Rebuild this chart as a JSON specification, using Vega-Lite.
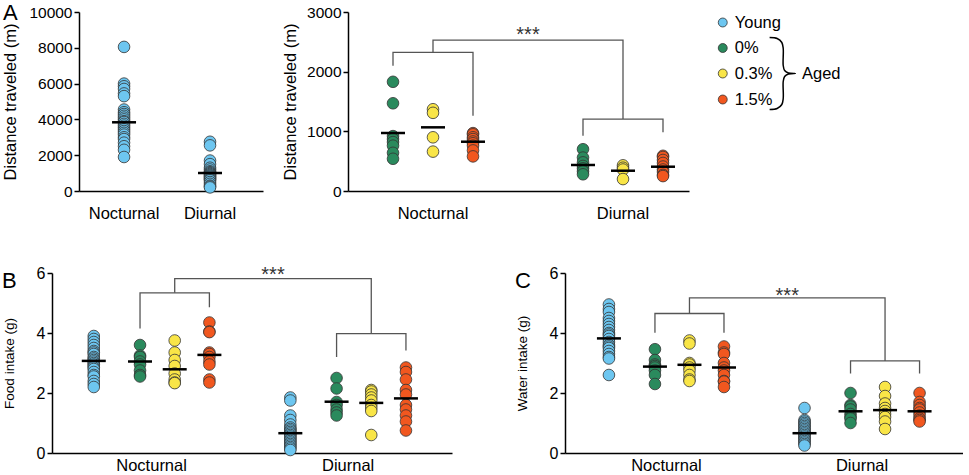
{
  "$schema": "https://vega.github.io/schema/vega-lite/v6.json",
  "padding": {"left": 1, "top": 2, "right": 0, "bottom": 0},
  "background": "white",
  "datasets": {
    "distYoung": [
      {"period":"Nocturnal","group":"Young","value":8050},{"period":"Nocturnal","group":"Young","value":6000},{"period":"Nocturnal","group":"Young","value":5850},{"period":"Nocturnal","group":"Young","value":5700},{"period":"Nocturnal","group":"Young","value":5450},{"period":"Nocturnal","group":"Young","value":5300},{"period":"Nocturnal","group":"Young","value":4550},{"period":"Nocturnal","group":"Young","value":4400},{"period":"Nocturnal","group":"Young","value":4300},{"period":"Nocturnal","group":"Young","value":4200},{"period":"Nocturnal","group":"Young","value":4100},{"period":"Nocturnal","group":"Young","value":4000},{"period":"Nocturnal","group":"Young","value":3900},{"period":"Nocturnal","group":"Young","value":3850},{"period":"Nocturnal","group":"Young","value":3750},{"period":"Nocturnal","group":"Young","value":3650},{"period":"Nocturnal","group":"Young","value":3550},{"period":"Nocturnal","group":"Young","value":3450},{"period":"Nocturnal","group":"Young","value":3350},{"period":"Nocturnal","group":"Young","value":3250},{"period":"Nocturnal","group":"Young","value":3150},{"period":"Nocturnal","group":"Young","value":3000},{"period":"Nocturnal","group":"Young","value":2900},{"period":"Nocturnal","group":"Young","value":2700},{"period":"Nocturnal","group":"Young","value":2500},{"period":"Nocturnal","group":"Young","value":2300},{"period":"Nocturnal","group":"Young","value":1900},
      {"period":"Diurnal","group":"Young","value":2750},{"period":"Diurnal","group":"Young","value":2550},{"period":"Diurnal","group":"Young","value":1700},{"period":"Diurnal","group":"Young","value":1500},{"period":"Diurnal","group":"Young","value":1300},{"period":"Diurnal","group":"Young","value":1200},{"period":"Diurnal","group":"Young","value":1100},{"period":"Diurnal","group":"Young","value":1050},{"period":"Diurnal","group":"Young","value":1000},{"period":"Diurnal","group":"Young","value":950},{"period":"Diurnal","group":"Young","value":900},{"period":"Diurnal","group":"Young","value":850},{"period":"Diurnal","group":"Young","value":800},{"period":"Diurnal","group":"Young","value":750},{"period":"Diurnal","group":"Young","value":700},{"period":"Diurnal","group":"Young","value":650},{"period":"Diurnal","group":"Young","value":600},{"period":"Diurnal","group":"Young","value":500},{"period":"Diurnal","group":"Young","value":400},{"period":"Diurnal","group":"Young","value":300},{"period":"Diurnal","group":"Young","value":250},{"period":"Diurnal","group":"Young","value":200}
    ],
    "distYoungMean": [
      {"period":"Nocturnal","group":"Young","value":3838},{"period":"Diurnal","group":"Young","value":1005}
    ],
    "distAged": [
      {"period":"Nocturnal","group":"aged 0%","value":1830},{"period":"Nocturnal","group":"aged 0%","value":1470},{"period":"Nocturnal","group":"aged 0%","value":920},{"period":"Nocturnal","group":"aged 0%","value":870},{"period":"Nocturnal","group":"aged 0%","value":820},{"period":"Nocturnal","group":"aged 0%","value":760},{"period":"Nocturnal","group":"aged 0%","value":640},{"period":"Nocturnal","group":"aged 0%","value":540},
      {"period":"Nocturnal","group":"aged 0.3%","value":1370},{"period":"Nocturnal","group":"aged 0.3%","value":1310},{"period":"Nocturnal","group":"aged 0.3%","value":900},{"period":"Nocturnal","group":"aged 0.3%","value":660},
      {"period":"Nocturnal","group":"aged 1.5%","value":970},{"period":"Nocturnal","group":"aged 1.5%","value":950},{"period":"Nocturnal","group":"aged 1.5%","value":900},{"period":"Nocturnal","group":"aged 1.5%","value":870},{"period":"Nocturnal","group":"aged 1.5%","value":830},{"period":"Nocturnal","group":"aged 1.5%","value":800},{"period":"Nocturnal","group":"aged 1.5%","value":760},{"period":"Nocturnal","group":"aged 1.5%","value":680},{"period":"Nocturnal","group":"aged 1.5%","value":580},
      {"period":"Diurnal","group":"aged 0%","value":700},{"period":"Diurnal","group":"aged 0%","value":560},{"period":"Diurnal","group":"aged 0%","value":480},{"period":"Diurnal","group":"aged 0%","value":420},{"period":"Diurnal","group":"aged 0%","value":380},{"period":"Diurnal","group":"aged 0%","value":330},{"period":"Diurnal","group":"aged 0%","value":280},
      {"period":"Diurnal","group":"aged 0.3%","value":430},{"period":"Diurnal","group":"aged 0.3%","value":390},{"period":"Diurnal","group":"aged 0.3%","value":360},{"period":"Diurnal","group":"aged 0.3%","value":200},
      {"period":"Diurnal","group":"aged 1.5%","value":590},{"period":"Diurnal","group":"aged 1.5%","value":570},{"period":"Diurnal","group":"aged 1.5%","value":520},{"period":"Diurnal","group":"aged 1.5%","value":470},{"period":"Diurnal","group":"aged 1.5%","value":410},{"period":"Diurnal","group":"aged 1.5%","value":360},{"period":"Diurnal","group":"aged 1.5%","value":320},{"period":"Diurnal","group":"aged 1.5%","value":270},{"period":"Diurnal","group":"aged 1.5%","value":250}
    ],
    "distAgedMean": [
      {"period":"Nocturnal","group":"aged 0%","value":972},{"period":"Nocturnal","group":"aged 0.3%","value":1067},{"period":"Nocturnal","group":"aged 1.5%","value":826},
      {"period":"Diurnal","group":"aged 0%","value":436},{"period":"Diurnal","group":"aged 0.3%","value":340},{"period":"Diurnal","group":"aged 1.5%","value":407}
    ],
    "distBracket": [
      {"seg":1,"ord":1,"period":"Nocturnal","group":"aged 0%","value":2099},{"seg":1,"ord":2,"period":"Nocturnal","group":"aged 0%","value":2323},{"seg":1,"ord":3,"period":"Nocturnal","group":"aged 1.5%","value":2323},{"seg":1,"ord":4,"period":"Nocturnal","group":"aged 1.5%","value":1261},
      {"seg":2,"ord":1,"period":"Nocturnal","group":"aged 0.3%","value":2323},{"seg":2,"ord":2,"period":"Nocturnal","group":"aged 0.3%","value":2529},{"seg":2,"ord":3,"period":"Diurnal","group":"aged 0.3%","value":2529},{"seg":2,"ord":4,"period":"Diurnal","group":"aged 0.3%","value":1206},
      {"seg":3,"ord":1,"period":"Diurnal","group":"aged 0%","value":926},{"seg":3,"ord":2,"period":"Diurnal","group":"aged 0%","value":1206},{"seg":3,"ord":3,"period":"Diurnal","group":"aged 1.5%","value":1206},{"seg":3,"ord":4,"period":"Diurnal","group":"aged 1.5%","value":983}
    ],
    "distStar": [{"value":2510,"label":"***"}],
    "food": [
      {"period":"Nocturnal","group":"Young","value":3.9},{"period":"Nocturnal","group":"Young","value":3.8},{"period":"Nocturnal","group":"Young","value":3.7},{"period":"Nocturnal","group":"Young","value":3.6},{"period":"Nocturnal","group":"Young","value":3.5},{"period":"Nocturnal","group":"Young","value":3.4},{"period":"Nocturnal","group":"Young","value":3.35},{"period":"Nocturnal","group":"Young","value":3.3},{"period":"Nocturnal","group":"Young","value":3.2},{"period":"Nocturnal","group":"Young","value":3.15},{"period":"Nocturnal","group":"Young","value":3.1},{"period":"Nocturnal","group":"Young","value":3.05},{"period":"Nocturnal","group":"Young","value":3.0},{"period":"Nocturnal","group":"Young","value":2.95},{"period":"Nocturnal","group":"Young","value":2.9},{"period":"Nocturnal","group":"Young","value":2.85},{"period":"Nocturnal","group":"Young","value":2.8},{"period":"Nocturnal","group":"Young","value":2.7},{"period":"Nocturnal","group":"Young","value":2.6},{"period":"Nocturnal","group":"Young","value":2.55},{"period":"Nocturnal","group":"Young","value":2.4},{"period":"Nocturnal","group":"Young","value":2.3},{"period":"Nocturnal","group":"Young","value":2.2},
      {"period":"Nocturnal","group":"aged 0%","value":3.6},{"period":"Nocturnal","group":"aged 0%","value":3.25},{"period":"Nocturnal","group":"aged 0%","value":3.2},{"period":"Nocturnal","group":"aged 0%","value":3.05},{"period":"Nocturnal","group":"aged 0%","value":2.95},{"period":"Nocturnal","group":"aged 0%","value":2.75},{"period":"Nocturnal","group":"aged 0%","value":2.6},{"period":"Nocturnal","group":"aged 0%","value":2.55},
      {"period":"Nocturnal","group":"aged 0.3%","value":3.75},{"period":"Nocturnal","group":"aged 0.3%","value":3.35},{"period":"Nocturnal","group":"aged 0.3%","value":3.1},{"period":"Nocturnal","group":"aged 0.3%","value":2.9},{"period":"Nocturnal","group":"aged 0.3%","value":2.65},{"period":"Nocturnal","group":"aged 0.3%","value":2.45},{"period":"Nocturnal","group":"aged 0.3%","value":2.35},{"period":"Nocturnal","group":"aged 0.3%","value":2.33},
      {"period":"Nocturnal","group":"aged 1.5%","value":4.35},{"period":"Nocturnal","group":"aged 1.5%","value":4.05},{"period":"Nocturnal","group":"aged 1.5%","value":4.03},{"period":"Nocturnal","group":"aged 1.5%","value":3.35},{"period":"Nocturnal","group":"aged 1.5%","value":3.3},{"period":"Nocturnal","group":"aged 1.5%","value":3.2},{"period":"Nocturnal","group":"aged 1.5%","value":3.05},{"period":"Nocturnal","group":"aged 1.5%","value":2.95},{"period":"Nocturnal","group":"aged 1.5%","value":2.45},{"period":"Nocturnal","group":"aged 1.5%","value":2.35},
      {"period":"Diurnal","group":"Young","value":1.85},{"period":"Diurnal","group":"Young","value":1.75},{"period":"Diurnal","group":"Young","value":1.25},{"period":"Diurnal","group":"Young","value":1.1},{"period":"Diurnal","group":"Young","value":0.95},{"period":"Diurnal","group":"Young","value":0.85},{"period":"Diurnal","group":"Young","value":0.8},{"period":"Diurnal","group":"Young","value":0.75},{"period":"Diurnal","group":"Young","value":0.7},{"period":"Diurnal","group":"Young","value":0.65},{"period":"Diurnal","group":"Young","value":0.6},{"period":"Diurnal","group":"Young","value":0.55},{"period":"Diurnal","group":"Young","value":0.5},{"period":"Diurnal","group":"Young","value":0.45},{"period":"Diurnal","group":"Young","value":0.4},{"period":"Diurnal","group":"Young","value":0.35},{"period":"Diurnal","group":"Young","value":0.3},{"period":"Diurnal","group":"Young","value":0.25},{"period":"Diurnal","group":"Young","value":0.2},{"period":"Diurnal","group":"Young","value":0.15},{"period":"Diurnal","group":"Young","value":0.1},
      {"period":"Diurnal","group":"aged 0%","value":2.5},{"period":"Diurnal","group":"aged 0%","value":2.15},{"period":"Diurnal","group":"aged 0%","value":1.7},{"period":"Diurnal","group":"aged 0%","value":1.6},{"period":"Diurnal","group":"aged 0%","value":1.45},{"period":"Diurnal","group":"aged 0%","value":1.35},{"period":"Diurnal","group":"aged 0%","value":1.25},
      {"period":"Diurnal","group":"aged 0.3%","value":2.1},{"period":"Diurnal","group":"aged 0.3%","value":2.05},{"period":"Diurnal","group":"aged 0.3%","value":1.95},{"period":"Diurnal","group":"aged 0.3%","value":1.85},{"period":"Diurnal","group":"aged 0.3%","value":1.75},{"period":"Diurnal","group":"aged 0.3%","value":1.6},{"period":"Diurnal","group":"aged 0.3%","value":1.5},{"period":"Diurnal","group":"aged 0.3%","value":1.4},{"period":"Diurnal","group":"aged 0.3%","value":0.6},
      {"period":"Diurnal","group":"aged 1.5%","value":2.85},{"period":"Diurnal","group":"aged 1.5%","value":2.7},{"period":"Diurnal","group":"aged 1.5%","value":2.45},{"period":"Diurnal","group":"aged 1.5%","value":2.1},{"period":"Diurnal","group":"aged 1.5%","value":1.95},{"period":"Diurnal","group":"aged 1.5%","value":1.6},{"period":"Diurnal","group":"aged 1.5%","value":1.45},{"period":"Diurnal","group":"aged 1.5%","value":1.25},{"period":"Diurnal","group":"aged 1.5%","value":1.05},{"period":"Diurnal","group":"aged 1.5%","value":0.75}
    ],
    "foodMean": [
      {"period":"Nocturnal","group":"Young","value":3.07},{"period":"Nocturnal","group":"aged 0%","value":3.05},{"period":"Nocturnal","group":"aged 0.3%","value":2.79},{"period":"Nocturnal","group":"aged 1.5%","value":3.27},
      {"period":"Diurnal","group":"Young","value":0.66},{"period":"Diurnal","group":"aged 0%","value":1.71},{"period":"Diurnal","group":"aged 0.3%","value":1.67},{"period":"Diurnal","group":"aged 1.5%","value":1.82}
    ],
    "foodBracket": [
      {"seg":1,"ord":1,"period":"Nocturnal","group":"aged 0%","value":4.15},{"seg":1,"ord":2,"period":"Nocturnal","group":"aged 0%","value":5.34},{"seg":1,"ord":3,"period":"Nocturnal","group":"aged 1.5%","value":5.34},{"seg":1,"ord":4,"period":"Nocturnal","group":"aged 1.5%","value":4.86},
      {"seg":2,"ord":1,"period":"Nocturnal","group":"aged 0.3%","value":5.34},{"seg":2,"ord":2,"period":"Nocturnal","group":"aged 0.3%","value":5.81},{"seg":2,"ord":3,"period":"Diurnal","group":"aged 0.3%","value":5.81},{"seg":2,"ord":4,"period":"Diurnal","group":"aged 0.3%","value":3.98},
      {"seg":3,"ord":1,"period":"Diurnal","group":"aged 0%","value":3.2},{"seg":3,"ord":2,"period":"Diurnal","group":"aged 0%","value":3.98},{"seg":3,"ord":3,"period":"Diurnal","group":"aged 1.5%","value":3.98},{"seg":3,"ord":4,"period":"Diurnal","group":"aged 1.5%","value":3.42}
    ],
    "foodStar": [{"value":5.73,"label":"***"}],
    "water": [
      {"period":"Nocturnal","group":"Young","value":4.95},{"period":"Nocturnal","group":"Young","value":4.8},{"period":"Nocturnal","group":"Young","value":4.7},{"period":"Nocturnal","group":"Young","value":4.5},{"period":"Nocturnal","group":"Young","value":4.4},{"period":"Nocturnal","group":"Young","value":4.3},{"period":"Nocturnal","group":"Young","value":4.2},{"period":"Nocturnal","group":"Young","value":4.1},{"period":"Nocturnal","group":"Young","value":4.0},{"period":"Nocturnal","group":"Young","value":3.95},{"period":"Nocturnal","group":"Young","value":3.9},{"period":"Nocturnal","group":"Young","value":3.8},{"period":"Nocturnal","group":"Young","value":3.7},{"period":"Nocturnal","group":"Young","value":3.6},{"period":"Nocturnal","group":"Young","value":3.55},{"period":"Nocturnal","group":"Young","value":3.5},{"period":"Nocturnal","group":"Young","value":3.4},{"period":"Nocturnal","group":"Young","value":3.3},{"period":"Nocturnal","group":"Young","value":3.2},{"period":"Nocturnal","group":"Young","value":3.15},{"period":"Nocturnal","group":"Young","value":2.6},
      {"period":"Nocturnal","group":"aged 0%","value":3.46},{"period":"Nocturnal","group":"aged 0%","value":3.1},{"period":"Nocturnal","group":"aged 0%","value":2.95},{"period":"Nocturnal","group":"aged 0%","value":2.9},{"period":"Nocturnal","group":"aged 0%","value":2.85},{"period":"Nocturnal","group":"aged 0%","value":2.75},{"period":"Nocturnal","group":"aged 0%","value":2.6},{"period":"Nocturnal","group":"aged 0%","value":2.3},
      {"period":"Nocturnal","group":"aged 0.3%","value":3.75},{"period":"Nocturnal","group":"aged 0.3%","value":3.65},{"period":"Nocturnal","group":"aged 0.3%","value":3.0},{"period":"Nocturnal","group":"aged 0.3%","value":2.95},{"period":"Nocturnal","group":"aged 0.3%","value":2.85},{"period":"Nocturnal","group":"aged 0.3%","value":2.75},{"period":"Nocturnal","group":"aged 0.3%","value":2.6},{"period":"Nocturnal","group":"aged 0.3%","value":2.45},{"period":"Nocturnal","group":"aged 0.3%","value":2.4},
      {"period":"Nocturnal","group":"aged 1.5%","value":3.55},{"period":"Nocturnal","group":"aged 1.5%","value":3.35},{"period":"Nocturnal","group":"aged 1.5%","value":3.3},{"period":"Nocturnal","group":"aged 1.5%","value":3.0},{"period":"Nocturnal","group":"aged 1.5%","value":2.85},{"period":"Nocturnal","group":"aged 1.5%","value":2.75},{"period":"Nocturnal","group":"aged 1.5%","value":2.6},{"period":"Nocturnal","group":"aged 1.5%","value":2.4},{"period":"Nocturnal","group":"aged 1.5%","value":2.38},{"period":"Nocturnal","group":"aged 1.5%","value":2.2},
      {"period":"Diurnal","group":"Young","value":1.5},{"period":"Diurnal","group":"Young","value":1.1},{"period":"Diurnal","group":"Young","value":1.05},{"period":"Diurnal","group":"Young","value":1.0},{"period":"Diurnal","group":"Young","value":0.95},{"period":"Diurnal","group":"Young","value":0.9},{"period":"Diurnal","group":"Young","value":0.85},{"period":"Diurnal","group":"Young","value":0.8},{"period":"Diurnal","group":"Young","value":0.75},{"period":"Diurnal","group":"Young","value":0.7},{"period":"Diurnal","group":"Young","value":0.65},{"period":"Diurnal","group":"Young","value":0.6},{"period":"Diurnal","group":"Young","value":0.55},{"period":"Diurnal","group":"Young","value":0.5},{"period":"Diurnal","group":"Young","value":0.45},{"period":"Diurnal","group":"Young","value":0.4},{"period":"Diurnal","group":"Young","value":0.35},{"period":"Diurnal","group":"Young","value":0.3},{"period":"Diurnal","group":"Young","value":0.25},
      {"period":"Diurnal","group":"aged 0%","value":2.0},{"period":"Diurnal","group":"aged 0%","value":1.6},{"period":"Diurnal","group":"aged 0%","value":1.55},{"period":"Diurnal","group":"aged 0%","value":1.45},{"period":"Diurnal","group":"aged 0%","value":1.3},{"period":"Diurnal","group":"aged 0%","value":1.2},{"period":"Diurnal","group":"aged 0%","value":1.15},{"period":"Diurnal","group":"aged 0%","value":1.0},
      {"period":"Diurnal","group":"aged 0.3%","value":2.2},{"period":"Diurnal","group":"aged 0.3%","value":1.9},{"period":"Diurnal","group":"aged 0.3%","value":1.65},{"period":"Diurnal","group":"aged 0.3%","value":1.5},{"period":"Diurnal","group":"aged 0.3%","value":1.4},{"period":"Diurnal","group":"aged 0.3%","value":1.3},{"period":"Diurnal","group":"aged 0.3%","value":1.2},{"period":"Diurnal","group":"aged 0.3%","value":1.05},{"period":"Diurnal","group":"aged 0.3%","value":0.8},
      {"period":"Diurnal","group":"aged 1.5%","value":2.0},{"period":"Diurnal","group":"aged 1.5%","value":1.7},{"period":"Diurnal","group":"aged 1.5%","value":1.6},{"period":"Diurnal","group":"aged 1.5%","value":1.5},{"period":"Diurnal","group":"aged 1.5%","value":1.45},{"period":"Diurnal","group":"aged 1.5%","value":1.35},{"period":"Diurnal","group":"aged 1.5%","value":1.25},{"period":"Diurnal","group":"aged 1.5%","value":1.15},{"period":"Diurnal","group":"aged 1.5%","value":1.1},{"period":"Diurnal","group":"aged 1.5%","value":1.05}
    ],
    "waterMean": [
      {"period":"Nocturnal","group":"Young","value":3.82},{"period":"Nocturnal","group":"aged 0%","value":2.88},{"period":"Nocturnal","group":"aged 0.3%","value":2.94},{"period":"Nocturnal","group":"aged 1.5%","value":2.85},
      {"period":"Diurnal","group":"Young","value":0.66},{"period":"Diurnal","group":"aged 0%","value":1.39},{"period":"Diurnal","group":"aged 0.3%","value":1.43},{"period":"Diurnal","group":"aged 1.5%","value":1.39}
    ],
    "waterBracket": [
      {"seg":1,"ord":1,"period":"Nocturnal","group":"aged 0%","value":4.01},{"seg":1,"ord":2,"period":"Nocturnal","group":"aged 0%","value":4.65},{"seg":1,"ord":3,"period":"Nocturnal","group":"aged 1.5%","value":4.65},{"seg":1,"ord":4,"period":"Nocturnal","group":"aged 1.5%","value":4.01},
      {"seg":2,"ord":1,"period":"Nocturnal","group":"aged 0.3%","value":4.65},{"seg":2,"ord":2,"period":"Nocturnal","group":"aged 0.3%","value":5.17},{"seg":2,"ord":3,"period":"Diurnal","group":"aged 0.3%","value":5.17},{"seg":2,"ord":4,"period":"Diurnal","group":"aged 0.3%","value":3.07},
      {"seg":3,"ord":1,"period":"Diurnal","group":"aged 0%","value":2.65},{"seg":3,"ord":2,"period":"Diurnal","group":"aged 0%","value":3.07},{"seg":3,"ord":3,"period":"Diurnal","group":"aged 1.5%","value":3.07},{"seg":3,"ord":4,"period":"Diurnal","group":"aged 1.5%","value":2.65}
    ],
    "waterStar": [{"value":5.04,"label":"***"}],
    "legendItems": [
      {"group":"Young","label":"Young","lx":20,"ly":10.5},{"group":"aged 0%","label":"0%","lx":20,"ly":36},{"group":"aged 0.3%","label":"0.3%","lx":20,"ly":61.5},{"group":"aged 1.5%","label":"1.5%","lx":20,"ly":87.5}
    ],
    "brace": [
      {"ord":1,"bx":70,"by":25.5},{"ord":2,"bx":78,"by":26.5},{"ord":3,"bx":83,"by":30.5},{"ord":4,"bx":84.5,"by":36.5},{"ord":5,"bx":84.5,"by":53.5},{"ord":6,"bx":86,"by":58.5},{"ord":7,"bx":90,"by":61},{"ord":8,"bx":97.5,"by":61.5},{"ord":9,"bx":90,"by":62},{"ord":10,"bx":86,"by":64.5},{"ord":11,"bx":84.5,"by":69.5},{"ord":12,"bx":84.5,"by":86.5},{"ord":13,"bx":83,"by":92.5},{"ord":14,"bx":78,"by":96.5},{"ord":15,"bx":70,"by":97.5}
    ],
    "agedLabel": [{"label":"Aged","lx":104.5,"ly":61.5}],
    "blank": [{"k":0}]
  },
  "vconcat": [
    {
      "spacing": 0,
      "hconcat": [
        {"width": 1, "height": 1, "data": {"name": "blank"}, "mark": {"type": "point", "opacity": 0, "size": 0}},
        {
          "width": 184, "height": 179,
          "title": {"text": "A", "dy": 24},
          "layer": [
            {
              "data": {"name": "distYoung"},
              "mark": {"type": "circle", "size": 135, "stroke": "#333333", "strokeWidth": 0.8, "opacity": 1},
              "encoding": {
                "x": {"field": "period", "type": "nominal", "sort": ["Nocturnal", "Diurnal"], "scale": {"domain": ["Nocturnal", "Diurnal"], "paddingInner": 0, "paddingOuter": 0.07, "align": 0.17}, "axis": {"title": null, "labelAngle": 0, "ticks": false, "tickSize": 0, "labelPadding": 14, "labelFontSize": 16.5}},
                "y": {"field": "value", "type": "quantitative", "scale": {"domain": [0, 10000]}, "axis": {"title": "Distance traveled (m)", "values": [0, 2000, 4000, 6000, 8000, 10000], "tickCount": 6, "format": "d", "labelOverlap": false, "labelSeparation": 0, "labelFontSize": 15.5, "titleFontSize": 16.5, "titlePadding": 10}},
                "color": {"field": "group", "type": "nominal", "scale": {"domain": ["Young", "aged 0%", "aged 0.3%", "aged 1.5%"], "range": ["#6DC6F0", "#2A8A5D", "#F9E547", "#F1571F"]}, "legend": null}
              }
            },
            {
              "data": {"name": "distYoungMean"},
              "mark": {"type": "tick", "orient": "horizontal", "size": 24, "thickness": 2.5, "color": "black", "opacity": 1},
              "encoding": {
                "x": {"field": "period", "type": "nominal", "sort": ["Nocturnal", "Diurnal"]},
                "y": {"field": "value", "type": "quantitative", "axis": {"title": "Distance traveled (m)", "values": [0, 2000, 4000, 6000, 8000, 10000], "tickCount": 6, "format": "d", "labelOverlap": false, "labelSeparation": 0, "labelFontSize": 15.5, "titleFontSize": 16.5, "titlePadding": 10}}
              }
            }
          ]
        },
        {"width": 18.5, "height": 1, "data": {"name": "blank"}, "mark": {"type": "point", "opacity": 0, "size": 0}},
        {
          "width": 341, "height": 179,
          "layer": [
            {
              "data": {"name": "distBracket"},
              "transform": [{"calculate": "datum.period + ' ' + datum.group", "as": "slot"}],
              "mark": {"type": "line", "color": "#555555", "strokeWidth": 1.3},
              "encoding": {
                "x": {"field": "slot", "type": "nominal", "scale": {"domain": ["a0","a1","a2","a3","Nocturnal aged 0%","a5","a6","a7","Nocturnal aged 0.3%","a9","a10","a11","Nocturnal aged 1.5%","a13","a14","a15","a16","a17","a18","a19","a20","a21","a22","Diurnal aged 0%","a24","a25","a26","Diurnal aged 0.3%","a28","a29","a30","Diurnal aged 1.5%","a32","a33"], "paddingInner": 0, "paddingOuter": 0.05, "align": 0}, "axis": {"title": null, "labelAngle": 0, "ticks": false, "tickSize": 0, "labelPadding": 14, "labelFontSize": 16.5, "labelExpr": "datum.value == 'Nocturnal aged 0.3%' ? 'Nocturnal' : datum.value == 'Diurnal aged 0.3%' ? 'Diurnal' : ''"}},
                "y": {"field": "value", "type": "quantitative", "scale": {"domain": [0, 3000]}, "axis": {"title": "Distance traveled (m)", "values": [0, 1000, 2000, 3000], "format": "d", "labelOverlap": false, "labelSeparation": 0, "labelFontSize": 15.5, "titleFontSize": 16.5, "titlePadding": 8}},
                "detail": {"field": "seg", "type": "nominal"},
                "order": {"field": "ord", "type": "quantitative"}
              }
            },
            {
              "data": {"name": "distAged"},
              "transform": [{"calculate": "datum.period + ' ' + datum.group", "as": "slot"}],
              "mark": {"type": "circle", "size": 135, "stroke": "#333333", "strokeWidth": 0.8, "opacity": 1},
              "encoding": {
                "x": {"field": "slot", "type": "nominal"},
                "y": {"field": "value", "type": "quantitative"},
                "color": {"field": "group", "type": "nominal", "scale": {"domain": ["Young", "aged 0%", "aged 0.3%", "aged 1.5%"], "range": ["#6DC6F0", "#2A8A5D", "#F9E547", "#F1571F"]}, "legend": null}
              }
            },
            {
              "data": {"name": "distAgedMean"},
              "transform": [{"calculate": "datum.period + ' ' + datum.group", "as": "slot"}],
              "mark": {"type": "tick", "orient": "horizontal", "size": 24, "thickness": 2.5, "color": "black", "opacity": 1},
              "encoding": {
                "x": {"field": "slot", "type": "nominal"},
                "y": {"field": "value", "type": "quantitative"}
              }
            },
            {
              "data": {"name": "distStar"},
              "mark": {"type": "text", "fontSize": 20, "align": "center", "baseline": "alphabetic", "color": "#333333"},
              "encoding": {
                "x": {"datum": "a17", "type": "nominal", "bandPosition": 1},
                "y": {"field": "value", "type": "quantitative"},
                "text": {"field": "label"}
              }
            }
          ]
        },
        {"width": 15, "height": 1, "data": {"name": "blank"}, "mark": {"type": "point", "opacity": 0, "size": 0}},
        {
          "width": 150, "height": 100,
          "layer": [
            {
              "data": {"name": "legendItems"},
              "mark": {"type": "circle", "size": 80, "stroke": "#333333", "strokeWidth": 0.8, "opacity": 1},
              "encoding": {
                "x": {"field": "lx", "type": "quantitative", "scale": {"domain": [0, 150]}, "axis": null},
                "y": {"field": "ly", "type": "quantitative", "scale": {"domain": [0, 100], "reverse": true}, "axis": null},
                "color": {"field": "group", "type": "nominal", "scale": {"domain": ["Young", "aged 0%", "aged 0.3%", "aged 1.5%"], "range": ["#6DC6F0", "#2A8A5D", "#F9E547", "#F1571F"]}, "legend": null}
              }
            },
            {
              "data": {"name": "legendItems"},
              "mark": {"type": "text", "fontSize": 16.5, "align": "left", "baseline": "middle", "dx": 12, "color": "black"},
              "encoding": {
                "x": {"field": "lx", "type": "quantitative"},
                "y": {"field": "ly", "type": "quantitative"},
                "text": {"field": "label"}
              }
            },
            {
              "data": {"name": "brace"},
              "mark": {"type": "line", "interpolate": "catmull-rom", "color": "black", "strokeWidth": 1.5},
              "encoding": {
                "x": {"field": "bx", "type": "quantitative"},
                "y": {"field": "by", "type": "quantitative"},
                "order": {"field": "ord", "type": "quantitative"}
              }
            },
            {
              "data": {"name": "agedLabel"},
              "mark": {"type": "text", "fontSize": 16.5, "align": "left", "baseline": "middle", "color": "black"},
              "encoding": {
                "x": {"field": "lx", "type": "quantitative"},
                "y": {"field": "ly", "type": "quantitative"},
                "text": {"field": "label"}
              }
            }
          ]
        }
      ]
    },
    {
      "spacing": 0,
      "hconcat": [
        {"width": 1, "height": 1, "data": {"name": "blank"}, "mark": {"type": "point", "opacity": 0, "size": 0}},
        {
          "width": 400, "height": 180,
          "title": {"text": "B", "dy": 32},
          "layer": [
            {
              "data": {"name": "foodBracket"},
              "transform": [{"calculate": "datum.period + ' ' + datum.group", "as": "slot"}],
              "mark": {"type": "line", "color": "#555555", "strokeWidth": 1.3},
              "encoding": {
                "x": {"field": "slot", "type": "nominal", "scale": {"domain": ["s0","s1","s2","Nocturnal Young","s4","s5","s6","Nocturnal aged 0%","Nocturnal","s9","Nocturnal aged 0.3%","s11","s12","Nocturnal aged 1.5%","s14","s15","s16","s17","s18","s19","Diurnal Young","s21","s22","s23","Diurnal aged 0%","Diurnal","s26","Diurnal aged 0.3%","s28","s29","Diurnal aged 1.5%","s31","s32","s33"], "paddingInner": 0, "paddingOuter": 0.298, "align": 0.19}, "axis": {"title": null, "labelAngle": 0, "ticks": false, "tickSize": 0, "labelPadding": 4, "labelFontSize": 16.5, "labelExpr": "datum.value == 'Nocturnal' || datum.value == 'Diurnal' ? datum.value : ''"}},
                "y": {"field": "value", "type": "quantitative", "scale": {"domain": [0, 6]}, "axis": {"title": "Food intake (g)", "values": [0, 2, 4, 6], "format": "d", "labelOverlap": false, "labelSeparation": 0, "labelFontSize": 16, "titleFontSize": 13.5, "titlePadding": 20}},
                "detail": {"field": "seg", "type": "nominal"},
                "order": {"field": "ord", "type": "quantitative"}
              }
            },
            {
              "data": {"name": "food"},
              "transform": [{"calculate": "datum.period + ' ' + datum.group", "as": "slot"}],
              "mark": {"type": "circle", "size": 135, "stroke": "#333333", "strokeWidth": 0.8, "opacity": 1},
              "encoding": {
                "x": {"field": "slot", "type": "nominal"},
                "y": {"field": "value", "type": "quantitative"},
                "color": {"field": "group", "type": "nominal", "scale": {"domain": ["Young", "aged 0%", "aged 0.3%", "aged 1.5%"], "range": ["#6DC6F0", "#2A8A5D", "#F9E547", "#F1571F"]}, "legend": null}
              }
            },
            {
              "data": {"name": "foodMean"},
              "transform": [{"calculate": "datum.period + ' ' + datum.group", "as": "slot"}],
              "mark": {"type": "tick", "orient": "horizontal", "size": 24, "thickness": 2.5, "color": "black", "opacity": 1},
              "encoding": {
                "x": {"field": "slot", "type": "nominal"},
                "y": {"field": "value", "type": "quantitative"}
              }
            },
            {
              "data": {"name": "foodStar"},
              "mark": {"type": "text", "fontSize": 20, "align": "center", "baseline": "alphabetic", "color": "#333333"},
              "encoding": {
                "x": {"datum": "s18", "type": "nominal", "bandPosition": 1},
                "y": {"field": "value", "type": "quantitative"},
                "text": {"field": "label"}
              }
            }
          ]
        },
        {"width": 63, "height": 1, "data": {"name": "blank"}, "mark": {"type": "point", "opacity": 0, "size": 0}},
        {
          "width": 398, "height": 180,
          "title": {"text": "C", "dy": 32},
          "layer": [
            {
              "data": {"name": "waterBracket"},
              "transform": [{"calculate": "datum.period + ' ' + datum.group", "as": "slot"}],
              "mark": {"type": "line", "color": "#555555", "strokeWidth": 1.3},
              "encoding": {
                "x": {"field": "slot", "type": "nominal", "scale": {"domain": ["s0","s1","s2","Nocturnal Young","s4","s5","s6","Nocturnal aged 0%","Nocturnal","s9","Nocturnal aged 0.3%","s11","s12","Nocturnal aged 1.5%","s14","s15","s16","s17","s18","s19","Diurnal Young","s21","s22","s23","Diurnal aged 0%","Diurnal","s26","Diurnal aged 0.3%","s28","s29","Diurnal aged 1.5%","s31","s32","s33"], "paddingInner": 0, "paddingOuter": 0.297, "align": 0.536}, "axis": {"title": null, "labelAngle": 0, "ticks": false, "tickSize": 0, "labelPadding": 4, "labelFontSize": 16.5, "labelExpr": "datum.value == 'Nocturnal' || datum.value == 'Diurnal' ? datum.value : ''"}},
                "y": {"field": "value", "type": "quantitative", "scale": {"domain": [0, 6]}, "axis": {"title": "Water intake (g)", "values": [0, 2, 4, 6], "format": "d", "labelOverlap": false, "labelSeparation": 0, "labelFontSize": 16, "titleFontSize": 13.5, "titlePadding": 20}},
                "detail": {"field": "seg", "type": "nominal"},
                "order": {"field": "ord", "type": "quantitative"}
              }
            },
            {
              "data": {"name": "water"},
              "transform": [{"calculate": "datum.period + ' ' + datum.group", "as": "slot"}],
              "mark": {"type": "circle", "size": 135, "stroke": "#333333", "strokeWidth": 0.8, "opacity": 1},
              "encoding": {
                "x": {"field": "slot", "type": "nominal"},
                "y": {"field": "value", "type": "quantitative"},
                "color": {"field": "group", "type": "nominal", "scale": {"domain": ["Young", "aged 0%", "aged 0.3%", "aged 1.5%"], "range": ["#6DC6F0", "#2A8A5D", "#F9E547", "#F1571F"]}, "legend": null}
              }
            },
            {
              "data": {"name": "waterMean"},
              "transform": [{"calculate": "datum.period + ' ' + datum.group", "as": "slot"}],
              "mark": {"type": "tick", "orient": "horizontal", "size": 24, "thickness": 2.5, "color": "black", "opacity": 1},
              "encoding": {
                "x": {"field": "slot", "type": "nominal"},
                "y": {"field": "value", "type": "quantitative"}
              }
            },
            {
              "data": {"name": "waterStar"},
              "mark": {"type": "text", "fontSize": 20, "align": "center", "baseline": "alphabetic", "color": "#333333"},
              "encoding": {
                "x": {"datum": "s18", "type": "nominal", "bandPosition": 1},
                "y": {"field": "value", "type": "quantitative"},
                "text": {"field": "label"}
              }
            }
          ]
        }
      ]
    }
  ],
  "spacing": 43,
  "config": {
    "font": "Liberation Sans",
    "view": {"stroke": null},
    "axis": {"grid": false, "domainColor": "black", "domainWidth": 1.5, "tickColor": "black", "tickWidth": 1.5, "tickSize": 5, "labelColor": "black", "titleColor": "black", "labelFont": "Liberation Sans", "titleFont": "Liberation Sans", "titleFontWeight": "normal", "labelPadding": 2, "labelOverlap": false},
    "title": {"fontSize": 22, "fontWeight": "normal", "anchor": "start", "frame": "bounds", "font": "Liberation Sans", "color": "black", "offset": 0}
  }
}
